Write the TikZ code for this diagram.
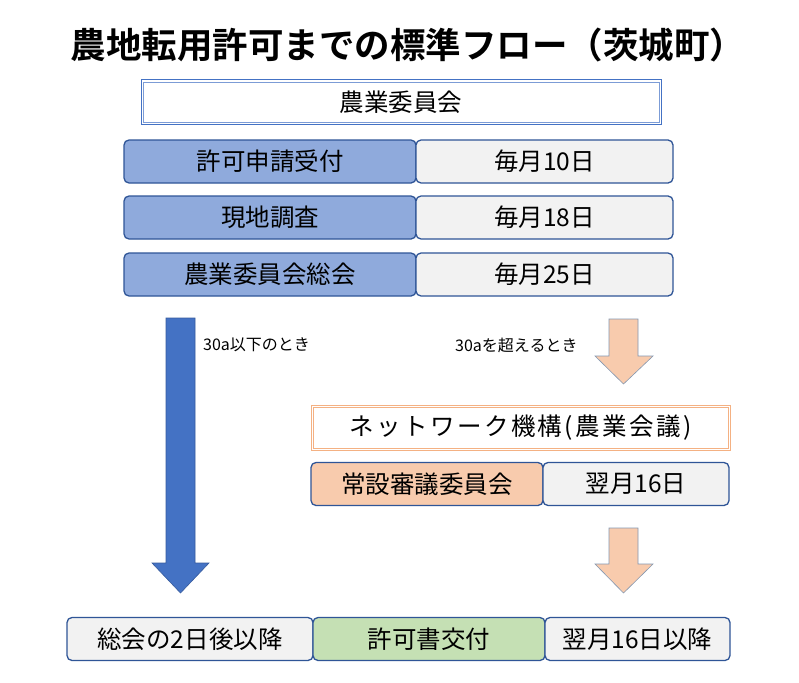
\documentclass[tikz,border=0pt]{standalone}
\usepackage{fontspec}
\setmainfont{Noto Sans CJK JP}
\newfontfamily\jpbold{Noto Sans CJK JP}[BoldFont={* Bold}]
\newfontfamily\jpspaced{Noto Sans CJK JP}[LetterSpace=10]
\definecolor{frameblue}{HTML}{2F5597}
\definecolor{midblue}{HTML}{4472C4}
\definecolor{lightblue}{HTML}{8FAADC}
\definecolor{paleblue}{HTML}{DAE3F3}
\definecolor{greyfill}{HTML}{F2F2F2}
\definecolor{peach}{HTML}{F8CBAD}
\definecolor{peachline}{HTML}{F4B183}
\definecolor{greenfill}{HTML}{C5E0B4}
\definecolor{arrowedge}{HTML}{8497B0}
\begin{document}
\begin{tikzpicture}[x=1pt,y=-1pt,
  box/.style={draw=frameblue,line width=1.3pt,rounded corners=5pt,inner sep=0pt,
    minimum height=43pt,font=\fontsize{24.5}{28}\selectfont},
  bluebox/.style={box,fill=lightblue},
  greybox/.style={box,fill=greyfill},
  peachbox/.style={box,fill=peach},
  greenbox/.style={box,fill=greenfill},
  note/.style={font=\fontsize{16}{18}\selectfont,anchor=west,inner sep=0pt}]
\useasboundingbox[fill=white] (0,0) rectangle (799,682);
% title
\node (title) at (408,45) {\jpbold\bfseries\fontsize{35.5}{40}\selectfont 農地転用許可までの標準フロー（茨城町）};
% committee
\node[draw=midblue,line width=1pt,fill=white,
  minimum width=520pt,minimum height=44pt,inner sep=0pt,font=\fontsize{24.5}{28}\selectfont]
  (iinkai) at (401,102) {農業委員会};
\draw[midblue!70,line width=0.7pt] ([shift={(2.5,2.5)}]iinkai.north west) rectangle ([shift={(-2.5,-2.5)}]iinkai.south east);
\node[bluebox,minimum width=292pt] (r1l) at (270,161.5) {許可申請受付};
\node[greybox,minimum width=257pt] (r1r) at (544.5,161.5) {毎月10日};
\node[bluebox,minimum width=292pt] (r2l) at (270,217.5) {現地調査};
\node[greybox,minimum width=257pt] (r2r) at (544.5,217.5) {毎月18日};
\node[bluebox,minimum width=292pt] (r3l) at (270,274.5) {農業委員会総会};
\node[greybox,minimum width=257pt] (r3r) at (544.5,274.5) {毎月25日};
% arrows
\draw[fill=midblue,draw=midblue!80!black,line width=0.6pt]
  (166,318) -- (195,318) -- (195,563) -- (209,563) -- (180.5,593) -- (152,563) -- (166,563) -- cycle;
\draw[fill=peach,draw=arrowedge,line width=0.6pt]
  (609,319) -- (638,319) -- (638,356) -- (653,356) -- (623.5,384) -- (595,356) -- (609,356) -- cycle;
\draw[fill=peach,draw=arrowedge,line width=0.6pt]
  (609,528) -- (638,528) -- (638,564) -- (653,564) -- (623.5,593) -- (595,564) -- (609,564) -- cycle;
\node[note] (le) at (203,345) {30a以下のとき};
\node[note] (gt) at (455,345) {30aを超えるとき};
% network
\node[draw=peachline,line width=1pt,fill=white,
  minimum width=419pt,minimum height=45pt,inner sep=0pt,font=\fontsize{24.5}{28}\selectfont]
  (net) at (520.5,427.5) {\jpspaced ネットワーク機構(農業会議)};
\draw[peachline,line width=0.7pt] ([shift={(2.5,2.5)}]net.north west) rectangle ([shift={(-2.5,-2.5)}]net.south east);
\node[peachbox,minimum width=232pt] (jo) at (427,484) {常設審議委員会};
\node[greybox,minimum width=186pt] (jor) at (636,484) {翌月16日};
% bottom
\node[greybox,minimum width=246pt] (b1) at (190,639) {総会の2日後以降};
\node[greenbox,minimum width=232pt] (b2) at (429,639) {許可書交付};
\node[greybox,minimum width=185pt] (b3) at (637.5,639) {翌月16日以降};
\end{tikzpicture}
\end{document}
